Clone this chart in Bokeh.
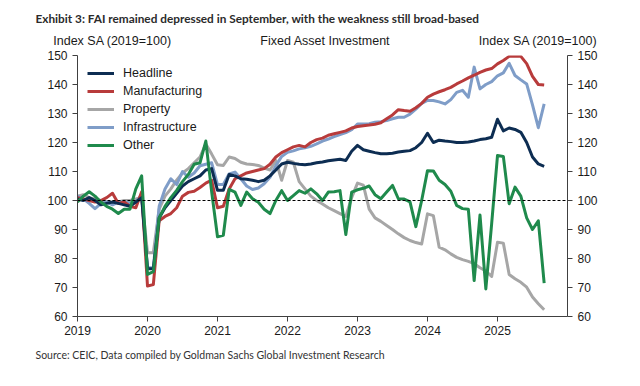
import pandas as pd
from bokeh.plotting import figure
from bokeh.models import (Range1d, LinearAxis, FixedTicker, Span, Legend, LegendItem, Title,
                          ColumnDataSource, CustomJSTickFormatter)
from bokeh.embed import file_html
from bokeh.resources import INLINE

months = pd.date_range("2019-01-01", "2025-09-01", freq="MS")

headline = [100.5, 100, 101, 100, 98.5, 99, 99.5, 99, 98.5, 98, 99.5, 101,
            76.5, 76.5, 94, 97.5, 100, 102.5, 105, 106.5, 107.5, 108.5, 110.5, 111,
            103.5, 103.5, 109, 108.5, 107.5, 107.3, 107, 106.5, 107, 108.5, 110.5, 112.6,
            113.2, 112.8, 112.5, 112.3, 112.6, 113, 113.3, 113.7, 114, 114.2, 113.8, 117,
            119, 117.5, 117, 116.5, 116.1, 116.1, 116.3, 116.7, 117, 117.2, 118.2, 120,
            123.2, 120, 120.8, 120.5, 120.3, 120, 120, 120.2, 120.5, 121, 121.3, 121.8,
            128, 124, 125, 124.5, 123.5, 120, 115, 112.6, 111.8]

manufacturing = [101, 100.5, 100, 99.5, 100, 101, 102.5, 99, 99.5, 98, 97.5, 103,
                 70.5, 71, 93, 94.5, 95.5, 97.5, 101.5, 102.8, 103.2, 104.5, 106, 107,
                 97.5, 98, 104, 107.5, 108.5, 109.5, 110, 110.5, 111, 112.5, 115, 116.5,
                 117.5, 118.5, 119, 118.5, 120, 121, 121.5, 122.5, 123, 123.5, 124, 125,
                 125.5, 125.8, 126, 126.3, 126.8, 128.2, 129.5, 131.3, 131, 130.8, 132, 133.5,
                 135.6, 136.7, 137.5, 138.2, 139, 140.2, 141.2, 142.3, 143.2, 144.2, 145, 145.5,
                 147.1, 148.3, 149.7, 149.8, 149.7, 147.2, 142.8, 140, 139.8]

property_ = [101.5, 102, 101, 100.5, 100, 99.5, 99, 99.5, 100, 100, 100.5, 101,
             82, 82, 97, 101.5, 104, 107, 109.5, 111, 113, 115, 119.5, 116,
             112.3, 112.1, 115, 114.5, 113.2, 112.6, 112.4, 112.1, 111.2, 110.5, 113.8, 107,
             113.8, 113.2, 106.5, 104, 101.5, 100, 98.8, 97.5, 96.5, 95.5, 94.5, 101,
             106, 105.3, 97, 94, 92.8, 91.4, 90, 88.5, 87.2, 86.2, 85.5, 85,
             95.4, 94.8, 83.9, 83, 81.6, 80.4, 79.6, 79, 78.2, 76.8, 75.7, 73.8,
             85.6, 85.3, 74.5, 73, 71.8, 70.1, 66.7, 64.4, 62.3]

infrastructure = [101.5, 100.6, 99, 97.2, 98.9, 99.5, 98.5, 99.4, 99.6, 99, 99.4, 102,
                  76.8, 76.8, 98, 104, 107.5, 105.5, 110, 108, 109.5, 112, 112.5, 113,
                  105.5, 105.5, 109.2, 109.8, 107.5, 105, 103.8, 104.3, 105.8, 108, 112, 115.2,
                  116.6, 117.1, 117.8, 118.2, 118.7, 119.5, 120.5, 121.2, 122, 122.7, 123.4, 124.4,
                  126.4, 126.4, 126.5, 127, 127.2, 127.6, 128.2, 128.7, 128.7, 129.8, 131.5, 133.5,
                  134.5, 134.5, 134, 133.3, 134.8, 137.3, 138, 135.6, 146, 138.5, 140, 141,
                  143, 144, 147.3, 143.1, 141.6, 140.2, 133, 125.1, 133.3]

other = [99.5, 101.5, 103, 101.5, 99.5, 98, 97, 95.5, 97, 97, 104, 108.5,
         74.5, 75.5, 94, 98, 101, 103.5, 106.5, 109, 112.5, 113, 120.5, 103,
         87.5, 88, 103.8, 102.9, 98.3, 102.9, 100.6, 99.4, 97, 95.5, 100, 103.4,
         100, 101.7, 103.4, 102.5, 104, 102.3, 100, 102.9, 103, 103.4, 88.3, 102.9,
         103.7, 104.2, 105, 102, 100.6, 102.9, 105.2, 100.6, 100.5, 99.5, 91, 100,
         110.3, 110.2, 107, 105.5, 103.2, 98.3, 97.2, 97, 72.4, 95, 69.5, 92,
         115.5, 115.2, 98.9, 104.6, 101.5, 94, 90, 93, 71.5]

year_ticks = [2019, 2020, 2021, 2022, 2023, 2024, 2025]
y_ticks = [60, 70, 80, 90, 100, 110, 120, 130, 140, 150]
header_texts = ["Index SA (2019=100)", "Fixed Asset Investment", "Index SA (2019=100)"]
title_text = "Exhibit 3: FAI remained depressed in September, with the weakness still broad-based"
source_text = "Source: CEIC, Data compiled by Goldman Sachs Global Investment Research"

series_names = ["Headline", "Manufacturing", "Property", "Infrastructure", "Other"]
series_vals = [headline, manufacturing, property_, infrastructure, other]
colors = ["#0d2d52", "#b83b3b", "#a6a6a6", "#7f9dc8", "#1f8a4c"]

x = [m.year + (m.month - 1) / 12.0 for m in months]

FONT = "Liberation Sans"
TXT = "#1a1a1a"

p = figure(width=640, height=386, output_backend="svg", toolbar_location=None,
           x_range=Range1d(2019, 2026), y_range=Range1d(60, 150),
           min_border_left=77, min_border_right=73, min_border_top=55, min_border_bottom=70)
p.outline_line_color = None
p.xgrid.visible = False
p.ygrid.visible = False
p.background_fill_color = "white"
p.border_fill_color = "white"

p.extra_y_ranges = {"right": Range1d(60, 150)}
right_axis = LinearAxis(y_range_name="right")
p.add_layout(right_axis, "right")

for ax in [p.yaxis[0], right_axis]:
    ax.ticker = FixedTicker(ticks=y_ticks)
for ax in [p.xaxis[0], p.yaxis[0], right_axis]:
    ax.axis_line_color = "#404040"
    ax.major_tick_line_color = "#404040"
    ax.minor_tick_line_color = None
    ax.major_tick_out = 5
    ax.major_tick_in = 0
    ax.major_label_text_font = FONT
    ax.major_label_text_font_size = "12px"
    ax.major_label_text_color = TXT
    ax.major_label_standoff = 5
p.xaxis[0].ticker = FixedTicker(ticks=year_ticks)
p.xaxis[0].formatter = CustomJSTickFormatter(code="return tick.toFixed(0);")
p.xaxis[0].major_label_standoff = 4

# header row: an axis above the frame whose tick labels carry the three header texts
header_axis = LinearAxis(ticker=FixedTicker(ticks=[2019.5, 2022.54, 2025.58]),
                         formatter=CustomJSTickFormatter(
                             code="return %r[index];" % header_texts))
header_axis.axis_line_color = None
header_axis.major_tick_line_color = None
header_axis.minor_tick_line_color = None
header_axis.major_tick_out = 0
header_axis.major_tick_in = 0
header_axis.major_label_standoff = 8
header_axis.major_label_text_font = FONT
header_axis.major_label_text_font_size = "12.5px"
header_axis.major_label_text_color = TXT
p.add_layout(header_axis, "above")

p.title = Title(text=title_text, align="left", offset=-42, standoff=9,
                text_font="Lato", text_font_size="11.8px", text_font_style="bold",
                text_color="#2b2b2b")

p.add_layout(Title(text=source_text, align="left", offset=-42, standoff=19,
                   text_font="Lato", text_font_size="10.5px", text_font_style="normal",
                   text_color="#333333"), "below")

p.add_layout(Span(location=100, dimension="width", line_color="black",
                  line_width=1, line_dash="3 2"))

src = ColumnDataSource(dict(x=x, **{n: v for n, v in zip(series_names, series_vals)}))
draw_order = ["Property", "Infrastructure", "Manufacturing", "Headline", "Other"]
renderers = {}
for n in draw_order:
    c = colors[series_names.index(n)]
    renderers[n] = p.line("x", n, source=src, line_color=c, line_width=3, line_join="round")

legend = Legend(items=[LegendItem(label=n, renderers=[renderers[n]]) for n in series_names],
                location="top_left")
legend.background_fill_alpha = 0
legend.border_line_color = None
legend.margin = 10
legend.padding = 9
legend.spacing = 2
legend.glyph_width = 27
legend.glyph_height = 16
legend.label_height = 16
legend.label_standoff = 9
legend.label_text_font = FONT
legend.label_text_font_size = "12.5px"
legend.label_text_color = TXT
p.add_layout(legend)

open("out.html", "w").write(file_html(p, INLINE))
